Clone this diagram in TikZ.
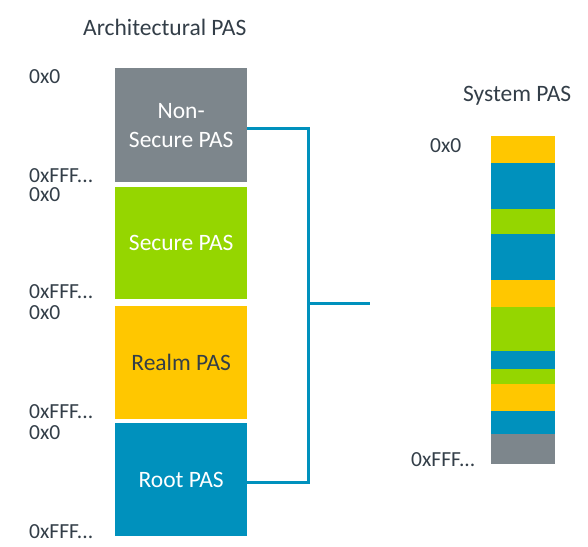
\documentclass[tikz,border=0pt]{standalone}
\usepackage{fontspec}
\setmainfont{Carlito}
\definecolor{nsgray}{HTML}{7D868C}
\definecolor{secgreen}{HTML}{95D600}
\definecolor{realmyellow}{HTML}{FFC700}
\definecolor{rootblue}{HTML}{0091BD}
\definecolor{txtdark}{HTML}{333E48}
\begin{document}
\begin{tikzpicture}[x=1pt,y=-1pt,
  pasbox/.style={anchor=north west,inner sep=0pt,minimum width=132pt,text=white,align=center,
    font=\fontsize{23.5}{29}\selectfont},
  addr/.style={anchor=west,inner sep=0pt,text=txtdark,font=\fontsize{21.5}{25}\selectfont},
  title/.style={anchor=base west,inner sep=0pt,text=txtdark,font=\fontsize{23.5}{28}\selectfont},
  link/.style={draw=rootblue,line width=3pt}]
\useasboundingbox (0,0) rectangle (588,546);
% titles
\node[title] (tarch) at (83,35) {Architectural PAS};
\node[title] (tsys) at (463,101) {System PAS};
% architectural boxes
\node[pasbox,fill=nsgray,minimum height=114pt] (ns) at (115,68) {Non-\\Secure PAS};
\node[pasbox,fill=secgreen,minimum height=112pt] (sec) at (115,187) {Secure PAS};
\node[pasbox,fill=realmyellow,minimum height=113pt,text=txtdark] (realm) at (115,306) {Realm PAS};
\node[pasbox,fill=rootblue,minimum height=113pt] (root) at (115,423) {Root PAS};
% address labels
\node[addr] (a1) at (29,77) {0x0};
\node[addr] (a2) at (29,176) {0xFFF...};
\node[addr] (a3) at (29,195) {0x0};
\node[addr] (a4) at (29,292) {0xFFF...};
\node[addr] (a5) at (29,313) {0x0};
\node[addr] (a6) at (29,412) {0xFFF...};
\node[addr] (a7) at (29,433) {0x0};
\node[addr] (a8) at (29,532) {0xFFF...};
% system PAS bar
\fill[realmyellow] (491,136) rectangle (555,163);
\fill[rootblue]    (491,163) rectangle (555,209);
\fill[secgreen]    (491,209) rectangle (555,234);
\fill[rootblue]    (491,234) rectangle (555,280);
\fill[realmyellow] (491,280) rectangle (555,307);
\fill[secgreen]    (491,307) rectangle (555,351);
\fill[rootblue]    (491,351) rectangle (555,369);
\fill[secgreen]    (491,369) rectangle (555,384);
\fill[realmyellow] (491,384) rectangle (555,411);
\fill[rootblue]    (491,411) rectangle (555,434);
\fill[nsgray]      (491,434) rectangle (555,464);
\node[addr] (s1) at (430,146) {0x0};
\node[addr] (s2) at (411,460) {0xFFF...};
% connectors
\coordinate (junc) at (308,303);
\coordinate (sysin) at (370,303);
\draw[link] ([yshift=-3pt]ns.east) -| (junc) |- ([yshift=-3pt]root.east);
\draw[link] (junc) -- (sysin);
\end{tikzpicture}
\end{document}
